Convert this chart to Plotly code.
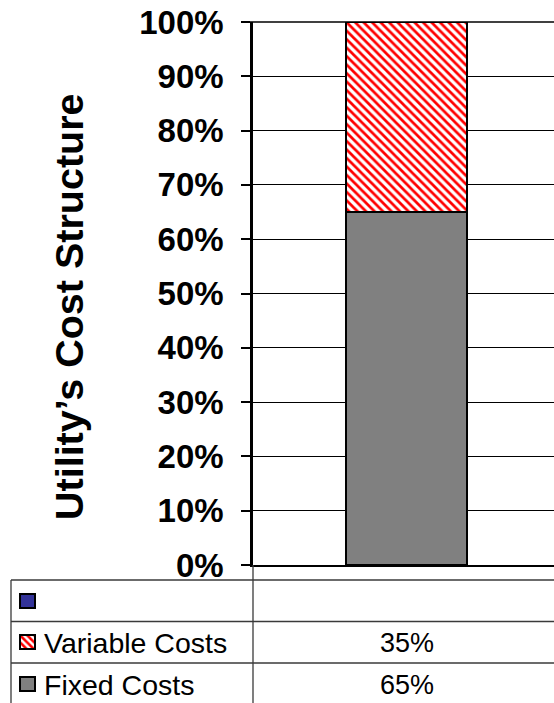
import plotly.graph_objects as go

# --- data -------------------------------------------------------------
category = [""]
series_names = ["", "Variable Costs", "Fixed Costs"]   # table rows, top to bottom
series_values = [None, 0.35, 0.65]
series_colors = ["#333399", "#ff0000", "#808080"]
y_ticks = [0, 0.1, 0.2, 0.3, 0.4, 0.5, 0.6, 0.7, 0.8, 0.9, 1.0]
axis_title = "Utility\u2019s Cost Structure"

W, H = 554, 703
FONT = "Liberation Sans, Arial, sans-serif"

# pixel geometry of the plot area and the data table below it
PLOT_L, PLOT_T, PLOT_B = 253, 22, 565
TABLE_L, TABLE_T = 11, 580
ROW_H = 41.5


def px_x(v):
    return v / W


def px_y(v):
    return 1 - v / H


fig = go.Figure()

# stacked column: fixed costs at the bottom, variable costs on top
fixed_val = series_values[2]
var_val = series_values[1]
fig.add_trace(go.Bar(
    x=[0], y=[fixed_val], name=series_names[2], width=0.405,
    marker=dict(color=series_colors[2], line=dict(color="black", width=2)),
    xaxis="x", yaxis="y", hoverinfo="skip",
))
fig.add_trace(go.Bar(
    x=[0], y=[var_val], name=series_names[1], width=0.405,
    marker=dict(
        color="white", line=dict(color="black", width=2),
        pattern=dict(shape="\\", fgcolor=series_colors[1], bgcolor="white",
                     size=6, solidity=0.45, fillmode="replace"),
    ),
    xaxis="x", yaxis="y", hoverinfo="skip",
))

# legend keys of the data table, drawn on a pixel-space overlay axis
key_x, key_w, key_h = 27, 15, 14
for i, (name, color) in enumerate(zip(series_names, series_colors)):
    row_mid = TABLE_T + ROW_H * (i + 0.5)
    marker = dict(color=color, line=dict(color="black", width=2))
    if name == "Variable Costs":
        marker = dict(color="white", line=dict(color="black", width=2),
                      pattern=dict(shape="\\", fgcolor=color, bgcolor="white",
                                   size=5, solidity=0.5, fillmode="replace"))
    fig.add_trace(go.Bar(
        x=[key_x], y=[key_h], base=[row_mid - key_h / 2], width=[key_w],
        marker=marker, xaxis="x2", yaxis="y2", hoverinfo="skip",
    ))

shapes = []
line_col = "#3a3a3a"
# horizontal table rules
for i in range(len(series_names)):
    y = TABLE_T + ROW_H * i
    shapes.append(dict(type="line", xref="x2", yref="y2", x0=TABLE_L, x1=W,
                       y0=y, y1=y, line=dict(color=line_col, width=1.3)))
# vertical table rules
shapes.append(dict(type="line", xref="x2", yref="y2", x0=TABLE_L, x1=TABLE_L,
                   y0=TABLE_T, y1=H, line=dict(color=line_col, width=1.3)))
shapes.append(dict(type="line", xref="x2", yref="y2", x0=PLOT_L, x1=PLOT_L,
                   y0=PLOT_B, y1=H, line=dict(color=line_col, width=1.3)))
# top gridline at 100%
shapes.append(dict(type="line", xref="x2", yref="y2", x0=PLOT_L - 9, x1=W,
                   y0=PLOT_T, y1=PLOT_T, line=dict(color="black", width=1.5)))

annotations = []
for i, (name, val) in enumerate(zip(series_names, series_values)):
    row_mid = TABLE_T + ROW_H * (i + 0.5)
    if name:
        annotations.append(dict(xref="x2", yref="y2", x=42, y=row_mid + 1,
                                text=name, showarrow=False, xanchor="left",
                                yanchor="middle",
                                font=dict(family=FONT, size=28.5, color="black")))
    if val is not None:
        annotations.append(dict(xref="x2", yref="y2", x=407, y=row_mid + 1,
                                text=f"{val:.0%}", showarrow=False,
                                xanchor="center", yanchor="middle",
                                font=dict(family=FONT, size=27, color="black")))

annotations.append(dict(xref="paper", yref="paper", x=px_x(69), y=px_y(307),
                        text=f"<b>{axis_title}</b>", textangle=-90,
                        showarrow=False, xanchor="center", yanchor="middle",
                        font=dict(family=FONT, size=39.5, color="black")))

fig.update_layout(
    width=W, height=H,
    margin=dict(l=0, r=0, t=0, b=0, pad=0, autoexpand=False),
    paper_bgcolor="white", plot_bgcolor="rgba(0,0,0,0)",
    barmode="stack", showlegend=False, bargap=0,
    shapes=shapes, annotations=annotations,
    xaxis=dict(domain=[px_x(PLOT_L), 1], range=[-0.51, 0.49],
               showticklabels=False, ticks="", showgrid=False, zeroline=False,
               showline=True, linecolor="black", linewidth=2,
               automargin=False, fixedrange=True),
    yaxis=dict(domain=[px_y(PLOT_B), px_y(PLOT_T)], range=[0, 1],
               tickvals=y_ticks, tickformat=".0%",
               ticks="outside", ticklen=9, tickwidth=1.5, tickcolor="black",
               ticklabelstandoff=11,
               tickfont=dict(family=FONT, size=33, color="black", weight="bold"),
               showgrid=True, gridcolor="black", gridwidth=1.4,
               zeroline=False, showline=True, linecolor="black", linewidth=2.5,
               automargin=False, fixedrange=True),
    xaxis2=dict(domain=[0, 1], range=[0, W], visible=False,
                automargin=False, fixedrange=True),
    yaxis2=dict(domain=[0, 1], range=[H, 0], visible=False,
                automargin=False, fixedrange=True, anchor="x2"),
)

fig.write_html("out.html")
